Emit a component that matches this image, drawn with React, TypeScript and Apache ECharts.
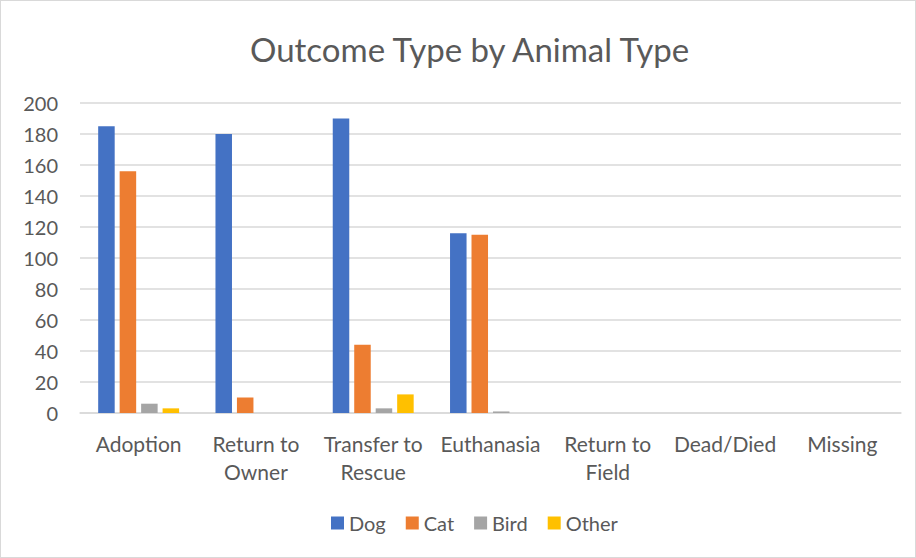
import React, { useEffect, useRef } from "react";
import * as echarts from "echarts";

const categories = [
  "Adoption",
  "Return to\nOwner",
  "Transfer to\nRescue",
  "Euthanasia",
  "Return to\nField",
  "Dead/Died",
  "Missing",
];
const dogValues = [185, 180, 190, 116, 0, 0, 0];
const catValues = [156, 10, 44, 115, 0, 0, 0];
const birdValues = [6, 0, 3, 1, 0, 0, 0];
const otherValues = [3, 0, 12, 0, 0, 0, 0];
const seriesNames = ["Dog", "Cat", "Bird", "Other"];
const seriesColors = ["#4472C4", "#ED7D31", "#A5A5A5", "#FFC000"];

export default function App() {
  const ref = useRef<HTMLDivElement>(null);
  useEffect(() => {
    if (!ref.current) return;
    const chart = echarts.init(ref.current, null, { renderer: "svg" });
    const data = [dogValues, catValues, birdValues, otherValues];
    const font = "Lato, 'Open Sans', sans-serif";
    chart.setOption({
      animation: false,
      backgroundColor: "#ffffff",
      textStyle: { fontFamily: font },
      title: {
        text: "Outcome Type by Animal Type",
        left: 244,
        top: 26,
        textStyle: { fontFamily: font, fontSize: 33, fontWeight: "normal", color: "#595959" },
      },
      legend: {
        top: 507,
        left: 325,
        itemWidth: 13,
        itemHeight: 13,
        itemGap: 20,
        icon: "rect",
        textStyle: { fontFamily: font, fontSize: 20, color: "#595959" },
        data: seriesNames,
      },
      grid: { left: 79, right: 14, top: 102, bottom: 144, containLabel: false },
      xAxis: {
        type: "category",
        data: categories,
        axisLine: { lineStyle: { color: "#d9d9d9", width: 1.5 } },
        axisTick: { show: false },
        axisLabel: {
          fontFamily: font,
          fontSize: 21,
          color: "#595959",
          lineHeight: 28,
          margin: 16,
          interval: 0,
          verticalAlign: "top",
        },
      },
      yAxis: {
        type: "value",
        min: 0,
        max: 200,
        interval: 20,
        axisLine: { show: false },
        axisTick: { show: false },
        splitLine: { lineStyle: { color: "#d9d9d9", width: 1.5 } },
        axisLabel: { fontFamily: font, fontSize: 20, color: "#595959", margin: 22 },
      },
      series: seriesNames.map((name, i) => ({
        name,
        type: "bar",
        data: data[i],
        barGap: "30%",
        barCategoryGap: "31%",
        itemStyle: { color: seriesColors[i] },
      })),
    });
    return () => chart.dispose();
  }, []);
  return (
    <div
      ref={ref}
      style={{
        position: "fixed",
        left: 0,
        top: 0,
        width: 916,
        height: 558,
        boxSizing: "border-box",
        border: "1px solid #d9d9d9",
      }}
    />
  );
}
